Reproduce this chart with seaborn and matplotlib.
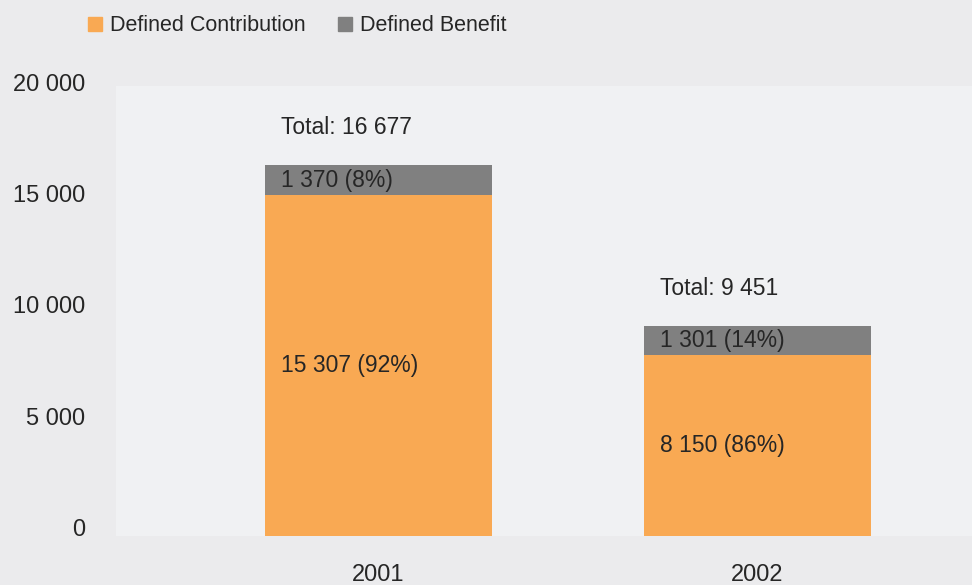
import matplotlib
matplotlib.use("Agg")
import matplotlib.pyplot as plt
import seaborn as sns
import pandas as pd
from matplotlib.lines import Line2D

# values
years = ["2001", "2002"]
defined_contribution = [15307, 8150]
defined_benefit = [1370, 1301]
dc_share = [92, 86]
db_share = [8, 14]

ORANGE = "#f9a953"
GREY = "#808080"
TEXT = "#262626"


def fmt(v):
    return f"{int(v):,}".replace(",", " ")


sns.set_theme(style="white")
plt.rcParams["font.family"] = ["Liberation Sans", "DejaVu Sans"]

df = pd.DataFrame({
    "year": years,
    "dc": defined_contribution,
    "db": defined_benefit,
})
df["total"] = df["dc"] + df["db"]

fig = plt.figure(figsize=(9.72, 5.85), dpi=100, facecolor="#ebebed")
ax = fig.add_axes([0.1193, 0.0838, 0.8807, 0.7692])
ax.set_facecolor("#f0f1f3")

# grey total bars underneath, orange DC part on top
sns.barplot(df, x="year", y="total", color=GREY, width=0.6, saturation=1,
            linewidth=0, ax=ax)
sns.barplot(df, x="year", y="dc", color=ORANGE, width=0.6, saturation=1,
            linewidth=0, ax=ax)

ax.set_xlim(-0.693, 1.566)
ax.set_ylim(0, 20225)
ax.set_xlabel("")
ax.set_ylabel("")
for s in ax.spines.values():
    s.set_visible(False)

yt = [0, 5000, 10000, 15000, 20000]
ax.set_yticks(yt)
ax.set_yticklabels([fmt(v) for v in yt], va="baseline")
ax.tick_params(axis="y", length=0, pad=22, labelsize=17, labelcolor=TEXT)
ax.tick_params(axis="x", length=0, pad=20, labelsize=17, labelcolor=TEXT)

for i, row in df.iterrows():
    x0 = i - 0.3 + 0.042
    ax.text(x0, row["dc"] / 2, f"{fmt(row['dc'])} ({dc_share[i]}%)",
            ha="left", va="center", fontsize=16.5, color=TEXT)
    ax.text(x0, row["dc"] + row["db"] / 2, f"{fmt(row['db'])} ({db_share[i]}%)",
            ha="left", va="center", fontsize=16.5, color=TEXT)
    ax.annotate(f"Total: {fmt(row['total'])}", (x0, row["total"]),
                xytext=(0, 27), textcoords="offset points",
                ha="left", va="center", fontsize=16.5, color=TEXT)

handles = [
    Line2D([], [], marker="s", linestyle="", markersize=10.5, color=ORANGE),
    Line2D([], [], marker="s", linestyle="", markersize=10.5, color=GREY),
]
fig.legend(handles, ["Defined Contribution", "Defined Benefit"],
           loc="center left", bbox_to_anchor=(0.078, 0.9556), ncol=2,
           frameon=False, fontsize=15.5, handlelength=0.8, handletextpad=0.3,
           columnspacing=1.4, labelcolor=TEXT, borderpad=0)

fig.savefig("out.png", dpi=100, facecolor=fig.get_facecolor())
